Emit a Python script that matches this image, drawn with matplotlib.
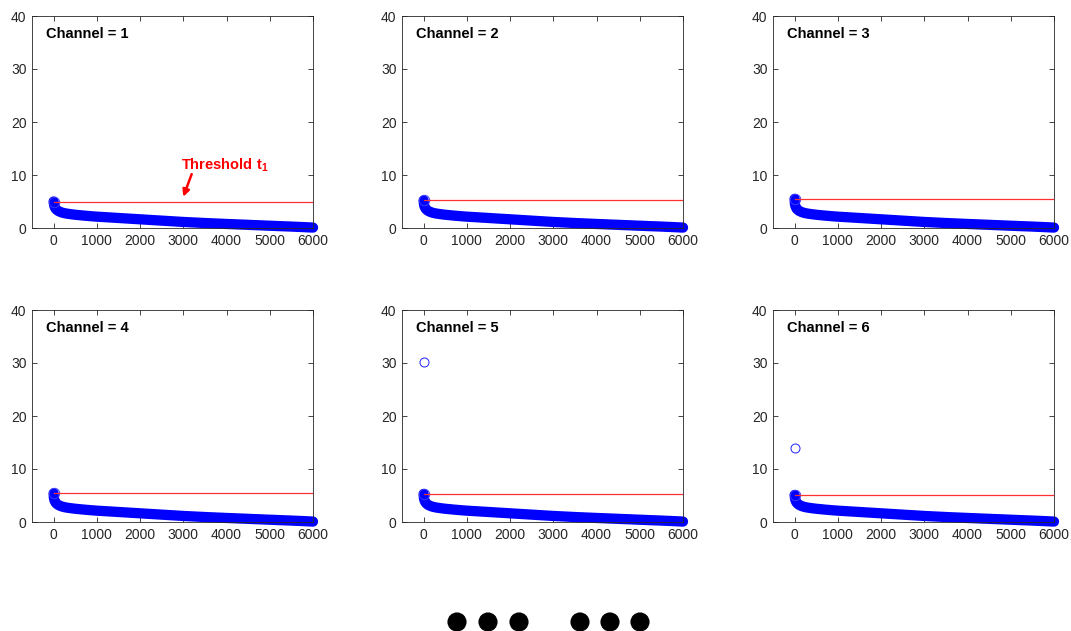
import matplotlib
matplotlib.use("Agg")
import matplotlib.pyplot as plt

plt.rcParams['font.family'] = ['Liberation Sans', 'DejaVu Sans']
plt.rcParams['mathtext.fontset'] = 'custom'
plt.rcParams['mathtext.bf'] = 'Liberation Sans:bold'
plt.rcParams['mathtext.rm'] = 'Liberation Sans'

# ---- data ----
channels = [1, 2, 3, 4, 5, 6]
thresholds = [5.0, 5.25, 5.5, 5.5, 5.3, 5.1]
peak_values = [5.0, 5.2, 5.5, 5.4, 5.3, 5.1]          # first sorted value per channel
outlier_values = [None, None, None, None, 30.2, 14.0]  # isolated top value at index 0

# shared sorted-magnitude curve (index -> value)
curve_idx = [0, 5, 10, 20, 30, 40, 50, 70, 100, 150, 200, 250, 300, 400, 500, 600, 700,
             800, 900, 1000, 1100, 1200, 1300, 1400, 1500, 1600, 1700, 1800, 1900,
             2000, 2100, 2200, 2300, 2400, 2500, 2600, 2700, 2800, 2900, 3000, 3100,
             3200, 3300, 3400, 3500, 3600, 3700, 3800, 3900, 4000, 4100, 4200, 4300,
             4400, 4500, 4600, 4700, 4800, 4900, 5000, 5100, 5200, 5300, 5400, 5500,
             5600, 5700, 5800, 5900, 6000]
curve_val = [5.0, 4.7, 4.4, 4.1, 3.9, 3.75, 3.6, 3.45, 3.25, 3.05, 2.9, 2.8, 2.72, 2.6,
             2.5, 2.42, 2.34, 2.27, 2.2, 2.14, 2.09, 2.04, 1.99, 1.94, 1.89, 1.84, 1.79,
             1.74, 1.69, 1.64, 1.59, 1.54, 1.49, 1.44, 1.39, 1.34, 1.29, 1.24, 1.19,
             1.14, 1.10, 1.06, 1.02, 0.98, 0.94, 0.90, 0.87, 0.83, 0.80, 0.76, 0.73,
             0.70, 0.66, 0.63, 0.60, 0.56, 0.53, 0.50, 0.46, 0.43, 0.40, 0.36, 0.33,
             0.30, 0.27, 0.23, 0.20, 0.16, 0.12, 0.08]

x_ticks = [0, 1000, 2000, 3000, 4000, 5000, 6000]
y_ticks = [0, 10, 20, 30, 40]
x_range = [-500, 6000]
y_range = [0, 40]
threshold_span = [0, 6000]

# ellipsis dots (figure pixel coords)
dots_x = [457, 488, 519, 580, 610, 640]
dots_y = [622, 622, 622, 622, 622, 622]

# ---- figure ----
W, H = 1071, 631
fig = plt.figure(figsize=(W / 100, H / 100), dpi=100)

col_left = [32, 402, 773]
row_bottom = [228, 522]
ax_w, ax_h = 281, 212

for i, ch in enumerate(channels):
    r, c = divmod(i, 3)
    ax = fig.add_axes([col_left[c] / W, (H - row_bottom[r]) / H, ax_w / W, ax_h / H])
    yv = [peak_values[i]] + curve_val[1:]
    # dense sorted samples overlap into a solid band
    ax.plot(curve_idx, yv, linestyle='-', linewidth=7.4, color='#0000ff',
            solid_capstyle='round', solid_joinstyle='round', zorder=2, clip_on=False)
    ax.plot([curve_idx[0]], [yv[0]], linestyle='none', marker='o', markersize=7.5,
            markerfacecolor='none', markeredgecolor='#3a3aff', markeredgewidth=0.7,
            zorder=2)
    if outlier_values[i] is not None:
        ax.plot([0], [outlier_values[i]], linestyle='none', marker='o', markersize=6.5,
                markerfacecolor='none', markeredgecolor='#2020ff', markeredgewidth=0.7)
    ax.plot(threshold_span, [thresholds[i]] * 2, color='#ff3030', linewidth=0.9, zorder=3)
    ax.set_xlim(x_range)
    ax.set_ylim(y_range)
    ax.set_xticks(x_ticks)
    ax.set_yticks(y_ticks)
    ax.tick_params(direction='in', top=True, right=True, length=3.5, width=0.6,
                   labelsize=10, colors='#262626', pad=4)
    for sp in ax.spines.values():
        sp.set_color('#262626')
        sp.set_linewidth(0.6)
    ax.text(0.05, 0.915, f'Channel = {ch}', transform=ax.transAxes, fontsize=10.5,
            fontweight='bold', va='center', ha='left', color='black')
    if i == 0:
        ax.annotate(r'$\mathbf{Threshold\ t_1}$', xy=(3000, 5.9), xytext=(2950, 11.0),
                    fontsize=10.5, color='#ff0000', ha='left', va='baseline',
                    arrowprops=dict(arrowstyle='-|>', color='#ff0000', lw=1.8,
                                    mutation_scale=10, shrinkA=0, shrinkB=0,
                                    patchA=None, relpos=(0.12, 0.0)))

# ellipsis dots
ov = fig.add_axes([0, 0, 1, 1])
ov.set_xlim(0, W)
ov.set_ylim(H, 0)
ov.axis('off')
ov.scatter(dots_x, dots_y, s=190, color='black', edgecolors='none')

fig.savefig('out.png', dpi=100)
